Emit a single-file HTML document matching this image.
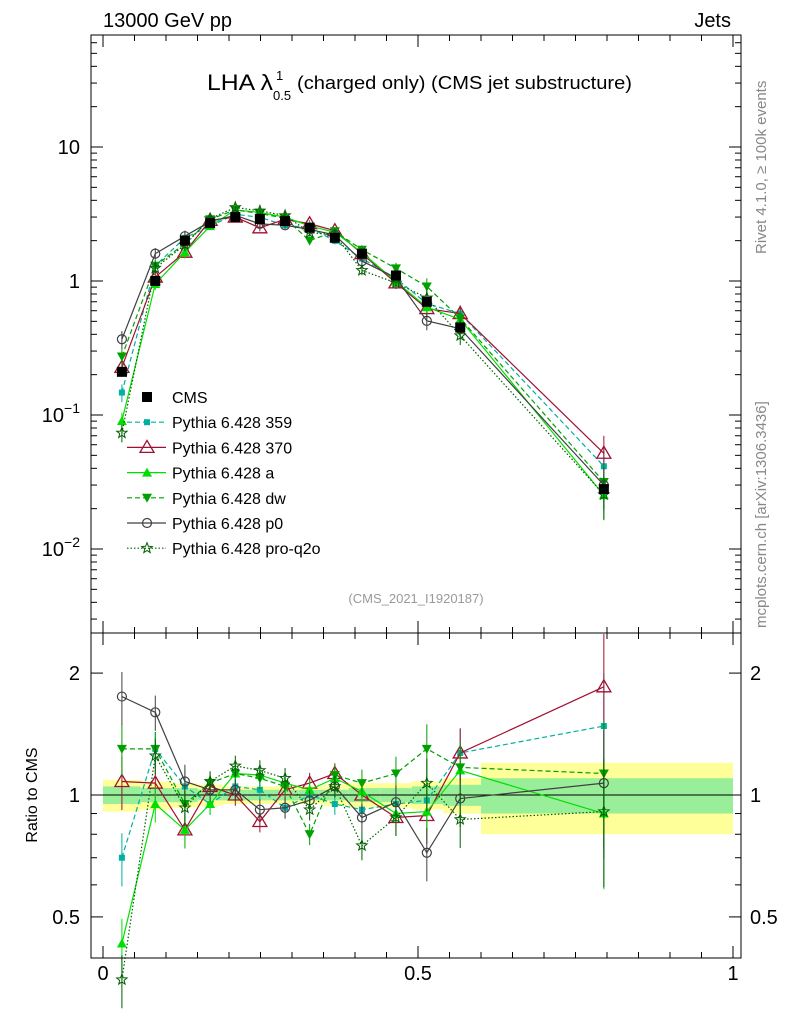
<!DOCTYPE html>
<html><head><meta charset="utf-8"><style>
body{margin:0;background:#fff}
svg text{font-family:"Liberation Sans",sans-serif}
</style></head><body>
<svg id="s" width="786" height="1024" xmlns="http://www.w3.org/2000/svg"></svg>
<script>
const S=document.getElementById('s');let h='';
const X=v=>103+630*v;
const YM=v=>281-134*Math.log10(v);
const YR=v=>795-405*Math.log10(v);
const xs=[0.03,0.083,0.13,0.17,0.21,0.249,0.289,0.328,0.368,0.411,0.465,0.514,0.567,0.795];
const cms=[0.21,1.0,2.0,2.7,3.0,2.9,2.8,2.5,2.1,1.6,1.1,0.7,0.45,0.028];
const edges=[0,0.06,0.11,0.15,0.19,0.23,0.27,0.31,0.35,0.39,0.44,0.49,0.54,0.6,1.0];
const yel=[.09,.08,.07,.06,.05,.05,.05,.05,.06,.07,.07,.08,.1,.2];
const grn=[.05,.04,.04,.03,.03,.03,.03,.03,.03,.04,.04,.05,.06,.1];
for(let i=0;i<14;i++){const x1=X(edges[i]),x2=X(edges[i+1]);
h+=`<rect x="${x1}" y="${YR(1+yel[i])}" width="${x2-x1}" height="${YR(1-yel[i])-YR(1+yel[i])}" fill="#ffff99"/>`;
h+=`<rect x="${x1}" y="${YR(1+grn[i])}" width="${x2-x1}" height="${YR(1-grn[i])-YR(1+grn[i])}" fill="#99ee99"/>`;}
h+=`<line x1="91" x2="741" y1="795" y2="795" stroke="#000"/>`;
const ser=[
{c:'#00b0a0',d:'5,3',m:'sq',r:[0.70,1.30,1.05,0.95,1.05,1.03,0.93,1.0,0.95,0.92,0.95,0.97,1.27,1.48]},
{c:'#a01030',d:'',m:'tri',r:[1.08,1.07,0.82,1.05,1.0,0.86,1.03,1.07,1.13,1.0,0.88,0.89,1.27,1.85]},
{c:'#00e000',d:'',m:'trif',r:[0.43,0.95,0.82,0.95,1.13,1.12,1.07,1.03,1.1,1.02,0.9,0.91,1.15,0.9]},
{c:'#00a000',d:'5,3',m:'trid',r:[1.3,1.3,0.95,1.07,1.13,1.1,1.05,0.8,1.12,1.07,1.13,1.3,1.17,1.13]},
{c:'#404040',d:'',m:'circ',r:[1.75,1.6,1.08,1.03,1.03,0.92,0.93,0.97,1.05,0.88,0.96,0.72,0.98,1.07]},
{c:'#006000',d:'1.5,2',m:'star',r:[0.35,1.25,0.93,1.08,1.18,1.15,1.1,0.92,1.05,0.75,0.88,1.07,0.87,0.91]}];
const err=[0.15,0.1,0.1,0.06,0.06,0.06,0.06,0.06,0.06,0.08,0.1,0.15,0.15,0.35];
function mk(t,x,y,c){
 if(t=='sq')return `<rect x="${x-3}" y="${y-3}" width="6" height="6" fill="${c}"/>`;
 if(t=='tri')return `<polygon points="${x},${y-7} ${x-7},${y+5} ${x+7},${y+5}" fill="none" stroke="${c}" stroke-width="1.3"/>`;
 if(t=='trif')return `<polygon points="${x},${y-5} ${x-5},${y+4} ${x+5},${y+4}" fill="${c}"/>`;
 if(t=='trid')return `<polygon points="${x},${y+5} ${x-5},${y-4} ${x+5},${y-4}" fill="${c}"/>`;
 if(t=='circ')return `<circle cx="${x}" cy="${y}" r="4.5" fill="none" stroke="${c}" stroke-width="1.2"/>`;
 if(t=='star'){let p=[];for(let k=0;k<10;k++){const a=-Math.PI/2+k*Math.PI/5,rr=k%2?2.3:5.5;p.push((x+rr*Math.cos(a)).toFixed(1)+','+(y+rr*Math.sin(a)).toFixed(1));}return `<polygon points="${p.join(' ')}" fill="none" stroke="${c}" stroke-width="1"/>`;}
 if(t=='cms')return `<rect x="${x-5}" y="${y-5}" width="10" height="10" fill="#000"/>`;
}
ser.forEach(s=>{let pm=[],pr=[];
 s.r.forEach((r,i)=>{const x=X(xs[i]);pm.push(x+','+YM(cms[i]*r));pr.push(x+','+YR(r));
  const e=err[i];
  h+=`<line x1="${x}" x2="${x}" y1="${YM(cms[i]*r*(1+e))}" y2="${YM(cms[i]*r*(1-e))}" stroke="${s.c}"/>`;
  h+=`<line x1="${x}" x2="${x}" y1="${YR(r*(1+e))}" y2="${YR(r*(1-e))}" stroke="${s.c}"/>`;});
 const st=`fill="none" stroke="${s.c}" stroke-width="1.2" ${s.d?`stroke-dasharray="${s.d}"`:''}`;
 h+=`<polyline points="${pm.join(' ')}" ${st}/><polyline points="${pr.join(' ')}" ${st}/>`;
 s.r.forEach((r,i)=>{h+=mk(s.m,X(xs[i]),YM(cms[i]*r),s.c)+mk(s.m,X(xs[i]),YR(r),s.c);});
});
cms.forEach((v,i)=>{h+=`<line x1="${X(xs[i])}" x2="${X(xs[i])}" y1="${YM(v*1.08)}" y2="${YM(v*0.92)}" stroke="#000"/>`+mk('cms',X(xs[i]),YM(v));});
h+=`<rect x="91" y="35" width="650" height="598" fill="none" stroke="#000"/><rect x="91" y="633" width="650" height="325" fill="none" stroke="#000"/>`;
for(let d=-3;d<=1;d++)for(let k=1;k<10;k++){const v=k*Math.pow(10,d),y=YM(v);if(y<35||y>633)continue;const L=k==1?12:6;
 h+=`<line x1="91" x2="${91+L}" y1="${y}" y2="${y}" stroke="#000"/><line x1="${741-L}" x2="741" y1="${y}" y2="${y}" stroke="#000"/>`;}
h+=`<text x="80" y="154" font-size="20" text-anchor="end">10</text><text x="80" y="288" font-size="20" text-anchor="end">1</text>`;
h+=`<text x="80" y="422" font-size="20" text-anchor="end">10<tspan font-size="14" dy="-9">−1</tspan></text>`;
h+=`<text x="80" y="556" font-size="20" text-anchor="end">10<tspan font-size="14" dy="-9">−2</tspan></text>`;
[0.5,0.6,0.7,0.8,0.9,1,2].forEach(v=>{const y=YR(v),L=(v==0.5||v==1||v==2)?12:6;
 h+=`<line x1="91" x2="${91+L}" y1="${y}" y2="${y}" stroke="#000"/><line x1="${741-L}" x2="741" y1="${y}" y2="${y}" stroke="#000"/>`;});
[[2,'2'],[1,'1'],[0.5,'0.5']].forEach(([v,t])=>{h+=`<text x="80" y="${YR(v)+7}" font-size="20" text-anchor="end">${t}</text><text x="750" y="${YR(v)+7}" font-size="20">${t}</text>`;});
for(let k=0;k<=20;k++){const v=k*0.05,x=X(v),L=k%10==0?12:6;
 h+=`<line x1="${x}" x2="${x}" y1="${958-L}" y2="958" stroke="#000"/><line x1="${x}" x2="${x}" y1="633" y2="${633+L}" stroke="#000"/><line x1="${x}" x2="${x}" y1="35" y2="${35+L}" stroke="#000"/><line x1="${x}" x2="${x}" y1="${633-L}" y2="633" stroke="#000"/>`;}
h+=`<text x="${X(0)}" y="980" font-size="20" text-anchor="middle">0</text><text x="${X(0.5)}" y="980" font-size="20" text-anchor="middle">0.5</text><text x="${X(1)}" y="980" font-size="20" text-anchor="middle">1</text>`;
h+=`<text x="103" y="27" font-size="20">13000 GeV pp</text><text x="731" y="27" font-size="20" text-anchor="end">Jets</text>`;
h+=`<text x="207" y="90" font-size="22" textLength="66" lengthAdjust="spacingAndGlyphs">LHA λ</text><text x="276" y="80" font-size="13">1</text><text x="273" y="100" font-size="13">0.5</text>`;
h+=`<text x="297" y="89" font-size="18" textLength="335" lengthAdjust="spacingAndGlyphs">(charged only) (CMS jet substructure)</text>`;
h+=`<text x="416" y="603" font-size="13" fill="#999" text-anchor="middle">(CMS_2021_I1920187)</text>`;
h+=`<text transform="translate(766,254) rotate(-90)" font-size="15" fill="#888">Rivet 4.1.0, ≥ 100k events</text>`;
h+=`<text transform="translate(766,628) rotate(-90)" font-size="15" fill="#888">mcplots.cern.ch [arXiv:1306.3436]</text>`;
h+=`<text transform="translate(37,795) rotate(-90)" font-size="16" text-anchor="middle">Ratio to CMS</text>`;
const leg=[['cms','#000','','CMS'],['sq','#00b0a0','5,3','Pythia 6.428 359'],['tri','#a01030','','Pythia 6.428 370'],['trif','#00e000','','Pythia 6.428 a'],['trid','#00a000','5,3','Pythia 6.428 dw'],['circ','#404040','','Pythia 6.428 p0'],['star','#006000','1.5,2','Pythia 6.428 pro-q2o']];
leg.forEach((l,i)=>{const y=397+i*25.2;
 if(i>0)h+=`<line x1="127" x2="166" y1="${y}" y2="${y}" stroke="${l[1]}" stroke-width="1.2" ${l[2]?`stroke-dasharray="${l[2]}"`:''}/>`;
 h+=mk(l[0],152-5,y,l[1]);
 h+=`<text x="172" y="${y+6}" font-size="16">${l[3]}</text>`;});
S.innerHTML=h;
</script>
</body></html>
